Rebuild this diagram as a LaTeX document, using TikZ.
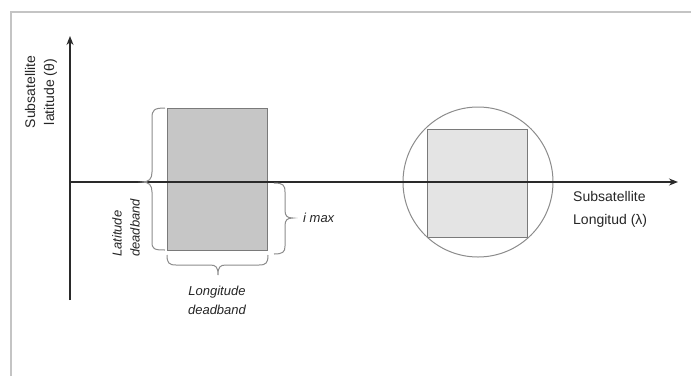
\documentclass[tikz,border=0pt]{standalone}
\usepackage{fontspec}
\setmainfont{Liberation Sans}
\usetikzlibrary{arrows.meta}
\definecolor{frameC}{HTML}{C4C4C4}
\definecolor{axisC}{HTML}{2A2A2A}
\definecolor{braceC}{HTML}{8C8C8C}
\definecolor{txtC}{HTML}{262626}
\definecolor{boxfill}{HTML}{C6C6C6}
\definecolor{boxline}{HTML}{7A7A7A}
\definecolor{sqfill}{HTML}{E4E4E4}
\begin{document}
\begin{tikzpicture}[x=1pt,y=-1pt,
  axis/.style={draw=axisC,line width=1.3pt,-{Stealth[length=9pt,width=7pt]}},
  bracepath/.style={draw=braceC,line width=1pt},
  greybox/.style={draw=boxline,fill=boxfill,line width=1pt,minimum width=100pt,minimum height=142pt,inner sep=0pt},
  dotbox/.style={draw=boxline,fill=sqfill,line width=1pt,minimum width=100pt,minimum height=108pt,inner sep=0pt},
  ring/.style={draw=braceC,line width=1pt,circle,minimum size=150pt,inner sep=0pt},
  axlabel/.style={text=txtC,font=\fontsize{14}{23}\selectfont,inner sep=0pt},
  itlabel/.style={text=txtC,font=\fontsize{13}{19}\selectfont\itshape,inner sep=0pt}]
\useasboundingbox (0,0) rectangle (691,376);
\fill[white] (0,0) rectangle (691,376);
% frame
\draw[frameC,line width=2pt] (11,376) -- (11,12) -- (691,12);
% shapes
\node[greybox] (lbox) at (217,179) {};
\node[dotbox] (rbox) at (477,183) {};
\node[ring] (circ) at (478,182) {};
% axes
\coordinate (O) at (70,182);
\coordinate (ytop) at (70,36);
\coordinate (ybot) at (70,300);
\coordinate (xend) at (678,182);
\draw[axis] (ybot) -- (ytop);
\draw[axis] (O) -- (xend);
% braces
\draw[bracepath] (165,108) .. controls (154,108) and (152,110) .. (152,118) -- (152,172) .. controls (152,179) and (149,182) .. (142,182) .. controls (149,182) and (152,185) .. (152,192) -- (152,242) .. controls (152,249) and (154,250) .. (165,250);
\draw[bracepath] (274,183) .. controls (283,183) and (285,185) .. (285,192) -- (285,210) .. controls (285,216) and (287,218) .. (293,218) .. controls (287,218) and (285,220) .. (285,226) -- (285,246) .. controls (285,252) and (283,254) .. (274,254);
\draw[bracepath] (167,255) .. controls (167,263) and (169,265) .. (176,265) -- (210,265) .. controls (216,265) and (218,267) .. (218,275) .. controls (218,267) and (220,265) .. (226,265) -- (259,265) .. controls (266,265) and (268,263) .. (268,255);
% labels
\node[axlabel,rotate=90,align=center,font=\fontsize{14}{19}\selectfont] (ylab) at (41,92) {Subsatellite\\latitude (θ)};
\node[axlabel,align=left,anchor=west] (xlab) at (573,209) {Subsatellite\\Longitud (λ)};
\node[itlabel,rotate=90,align=left,anchor=west,font=\fontsize{13}{18}\selectfont\itshape] (latlab) at (126,257) {Latitude\\deadband};
\node[itlabel,anchor=west] (imax) at (303,218) {i max};
\node[itlabel,align=center] (lonlab) at (217,300) {Longitude\\deadband};
\end{tikzpicture}
\end{document}
